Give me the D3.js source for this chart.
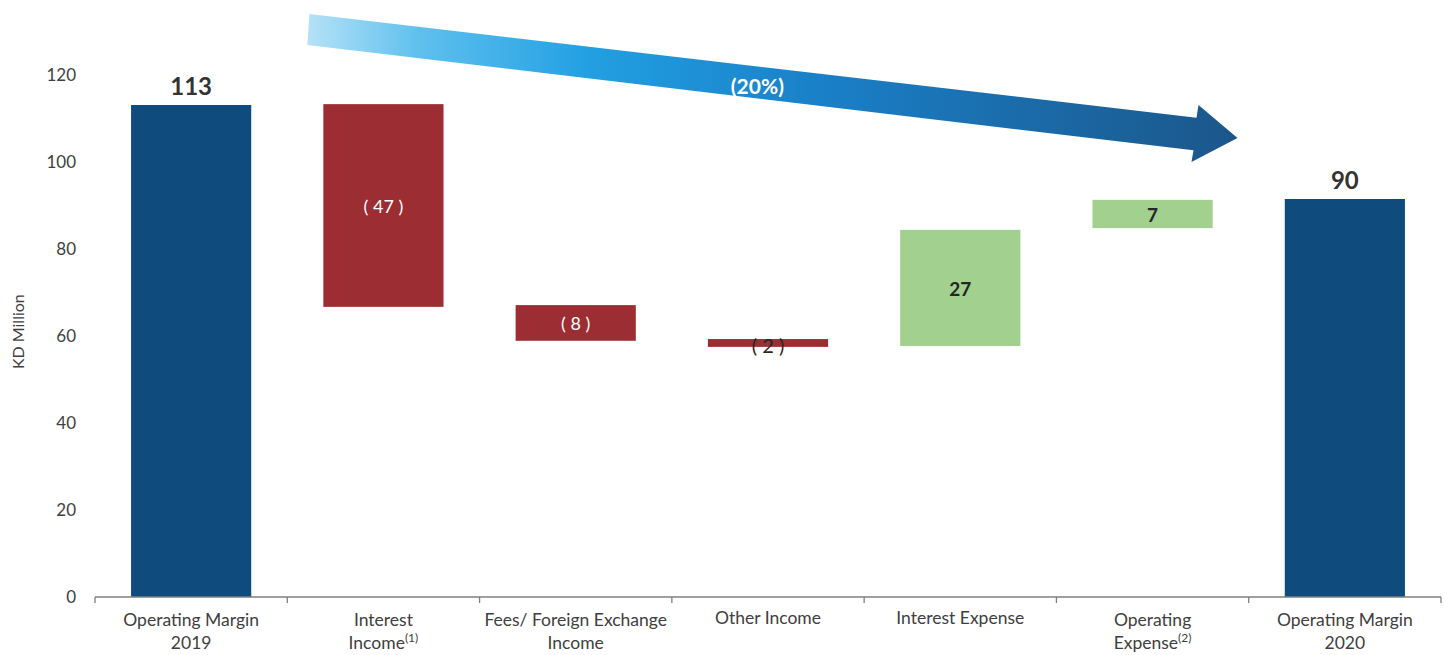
<!DOCTYPE html>
<html><head><meta charset="utf-8">
<script src="https://cdn.jsdelivr.net/npm/d3@7"></script>
<style>
body{margin:0;background:#fff;}
text{font-family:Lato,"Open Sans",sans-serif;}
</style></head>
<body><svg id="c" width="1449" height="655"></svg>
<script>
const categories = ["Operating Margin 2019","Interest Income","Fees/ Foreign Exchange Income","Other Income","Interest Expense","Operating Expense","Operating Margin 2020"];
const labelLines = [["Operating Margin","2019"],["Interest","Income"],["Fees/ Foreign Exchange","Income"],["Other Income"],["Interest Expense"],["Operating","Expense"],["Operating Margin","2020"]];
const footnotes = ["","(1)","","","","(2)",""];
const lows  = [0, 66.7, 58.9, 57.5, 57.7, 84.8, 0];
const highs = [113.1, 113.3, 67.1, 59.3, 84.4, 91.3, 91.5];
const kinds = ["total","neg","neg","neg","pos","pos","total"];
const valueLabels = ["113","( 47 )","( 8 )","( 2 )","27","7","90"];
const yTicks = [0,20,40,60,80,100,120];
const arrowText = "(20%)";

const colors = {total:"#0f4c7d", neg:"#9b2d33", pos:"#a2d08f"};
const svg = d3.select("#c");
const x = d3.scaleBand().domain(categories).range([95,1441]).paddingInner(0.375).paddingOuter(0.1875);
const y = d3.scaleLinear().domain([0,120]).range([597,75]);

// y tick labels
svg.append("g").selectAll("text").data(yTicks).join("text")
  .attr("x",76).attr("y",d=>y(d)).attr("dy","0.35em").attr("text-anchor","end")
  .attr("font-size",17).attr("fill","#404040").text(d=>d);
svg.append("text").attr("transform",`translate(24,${y(61)}) rotate(-90)`)
  .attr("text-anchor","middle").attr("font-size",16).attr("fill","#404040").text("KD Million");

// bars
svg.append("g").selectAll("rect").data(categories).join("rect")
  .attr("x",d=>x(d)).attr("width",x.bandwidth())
  .attr("y",(d,i)=>y(highs[i])).attr("height",(d,i)=>y(lows[i])-y(highs[i]))
  .attr("fill",(d,i)=>colors[kinds[i]]);

// x axis
const step = x.step();
const bounds = categories.map(d=>x(d)-(step-x.bandwidth())/2);
bounds.push(1441);
const ax = svg.append("g");
ax.append("line").attr("x1",95).attr("x2",1441).attr("y1",y(0)).attr("y2",y(0)).attr("stroke","#7f7f7f").attr("stroke-width",1.3);
ax.selectAll("line.t").data(bounds).join("line").attr("class","t")
  .attr("x1",d=>d).attr("x2",d=>d).attr("y1",y(0)).attr("y2",y(0)+6).attr("stroke","#7f7f7f").attr("stroke-width",1.3);

// category labels
categories.forEach((c,i)=>{
  const lines = labelLines[i];
  const cx = x(c)+x.bandwidth()/2;
  const y0 = lines.length===1 ? 624 : 626;
  const t = svg.append("text").attr("text-anchor","middle").attr("font-size",17.5).attr("fill","#404040");
  lines.forEach((ln,j)=>{
    const ts = t.append("tspan").attr("x",cx).attr("y",y0+j*23).text(ln);
    if(j===lines.length-1 && footnotes[i]){
      ts.append("tspan").attr("font-size",12).attr("dy",-7).text(footnotes[i]);
    }
  });
});

// value labels
categories.forEach((c,i)=>{
  const cx = x(c)+x.bandwidth()/2;
  if(kinds[i]==="total"){
    svg.append("text").attr("x",cx).attr("y",y(highs[i])-10).attr("text-anchor","middle")
      .attr("font-size",24).attr("font-weight","bold").attr("fill","#333").text(valueLabels[i]);
  } else {
    const mid = (y(highs[i])+y(lows[i]))/2 + (i===3?3:1);
    const white = kinds[i]==="neg" && i!==3;
    svg.append("text").attr("x",cx).attr("y",mid).attr("dy","0.35em").attr("text-anchor","middle")
      .attr("font-size",i===3?20:(kinds[i]==="pos"?19:18)).attr("font-weight",kinds[i]==="pos"?"bold":"normal")
      .attr("fill",white?"#fff":"#262626").text(valueLabels[i]);
  }
});

// arrow annotation
const defs = svg.append("defs");
const g = defs.append("linearGradient").attr("id","ag").attr("x1","0%").attr("x2","100%").attr("y1","0%").attr("y2","0%");
[[0,"#b5e2f7"],[0.12,"#5fc0ee"],[0.3,"#22a0e2"],[0.55,"#1a80c8"],[1,"#1b568a"]].forEach(s=>g.append("stop").attr("offset",s[0]).attr("stop-color",s[1]));
const ax0 = x(categories[1]) - 16, ax1 = x(categories[5]) + 145;
const pts = [
  [ax0+2, y(134)],
  [ax1-41, y(110.2)],
  [ax1-39, y(113.1)],
  [ax1, y(105.5)],
  [ax1-46, y(100)],
  [ax1-44, y(102.7)],
  [ax0, y(126.9)]
];
svg.append("polygon").attr("points",pts.map(p=>p.join(",")).join(" ")).attr("fill","url(#ag)");
svg.append("text").attr("x",(ax0+ax1)/2-15).attr("y",y(115.6)).attr("text-anchor","middle")
  .attr("font-size",21).attr("font-weight","bold").attr("fill","#fff").text(arrowText);
</script></body></html>
